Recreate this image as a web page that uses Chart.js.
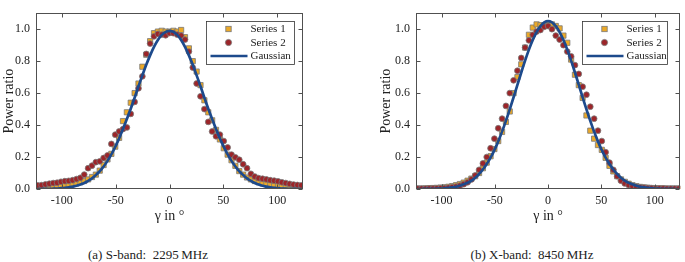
<!DOCTYPE html>
<html>
<head>
<meta charset="utf-8">
<script src="https://cdn.jsdelivr.net/npm/chart.js@4.4.1/dist/chart.umd.min.js"></script>
<style>
  body { margin: 0; background: #fff; width: 685px; height: 262px; position: relative; overflow: hidden; font-family: "Liberation Serif", serif; }
  canvas { position: absolute; top: 0; }
  #chartA { left: 0; }
  #chartB { left: 378px; }
  .cap { position: absolute; top: 247px; font-size: 13px; line-height: 16px; color: #222; white-space: nowrap; transform: translateX(-50%); }
</style>
</head>
<body>
<canvas id="chartA" width="310" height="225"></canvas>
<canvas id="chartB" width="307" height="225"></canvas>
<div class="cap" style="left:148px">(a) S-band:&nbsp; 2295&#8201;MHz</div>
<div class="cap" style="left:532px">(b) X-band:&nbsp; 8450&#8201;MHz</div>
<script>
// angle grid (deg) shared by both measurements
var angles = [-122.4, -118.8, -115.2, -111.6, -108, -104.4, -100.8, -97.2, -93.6, -90, -86.4, -82.8,
  -79.2, -75.6, -72, -68.4, -64.8, -61.2, -57.6, -54, -50.4, -46.8, -43.2, -39.6, -36, -32.4, -28.8,
  -25.2, -21.6, -18, -14.4, -10.8, -7.2, -3.6, 0, 3.6, 7.2, 10.8, 14.4, 18, 21.6, 25.2, 28.8, 32.4,
  36, 39.6, 43.2, 46.8, 50.4, 54, 57.6, 61.2, 64.8, 68.4, 72, 75.6, 79.2, 82.8, 86.4, 90, 93.6, 97.2,
  100.8, 104.4, 108, 111.6, 115.2, 118.8, 122.4];

var xTicks = [-100, -50, 0, 50, 100];
var yTicks = [0, 0.2, 0.4, 0.6, 0.8, 1.0];
var legendLabels = ['Series 1', 'Series 2', 'Gaussian'];

// S-band 2295 MHz
var sBand1 = [0.004, 0.006, 0.008, 0.010, 0.012, 0.015, 0.018, 0.022, 0.026, 0.030, 0.035, 0.042,
  0.050, 0.060, 0.075, 0.090, 0.115, 0.150, 0.185, 0.220, 0.265, 0.320, 0.425, 0.480, 0.540, 0.600,
  0.660, 0.765, 0.840, 0.925, 0.975, 0.985, 0.990, 0.985, 0.985,
  0.990, 0.985, 0.995, 0.950, 0.880, 0.800, 0.735, 0.650, 0.555, 0.480, 0.430, 0.370, 0.310, 0.255,
  0.215, 0.180, 0.145, 0.112, 0.090, 0.072, 0.060, 0.050, 0.042, 0.035, 0.030, 0.026, 0.022, 0.018,
  0.015, 0.012, 0.010, 0.008, 0.006, 0.004];
var sBand2 = [0.023, 0.024, 0.029, 0.033, 0.037, 0.039, 0.045, 0.049, 0.051, 0.055, 0.062, 0.070,
  0.090, 0.130, 0.146, 0.168, 0.173, 0.194, 0.210, 0.282, 0.340, 0.360, 0.375, 0.385, 0.470, 0.545,
  0.630, 0.705, 0.845, 0.910, 0.955, 0.970, 0.966, 0.962, 0.976,
  0.975, 0.966, 0.960, 0.935, 0.860, 0.760, 0.660, 0.580, 0.500, 0.420, 0.360, 0.330, 0.340, 0.300,
  0.260, 0.215, 0.198, 0.183, 0.155, 0.130, 0.095, 0.078, 0.068, 0.064, 0.060, 0.055, 0.052, 0.048,
  0.042, 0.037, 0.032, 0.028, 0.025, 0.023];
var sGauss = [0.000, 0.000, 0.001, 0.001, 0.002, 0.003, 0.005, 0.007, 0.010, 0.015, 0.020, 0.028,
  0.038, 0.051, 0.067, 0.087, 0.111, 0.141, 0.176, 0.217, 0.264, 0.317, 0.375, 0.438, 0.502, 0.571,
  0.643, 0.711, 0.777, 0.836, 0.889, 0.932, 0.964, 0.983, 0.990,
  0.983, 0.964, 0.932, 0.889, 0.836, 0.777, 0.711, 0.643, 0.571, 0.502, 0.438, 0.375, 0.317, 0.264,
  0.217, 0.176, 0.141, 0.111, 0.087, 0.067, 0.051, 0.038, 0.028, 0.020, 0.015, 0.010, 0.007, 0.005,
  0.003, 0.002, 0.001, 0.001, 0.000, 0.000];

// X-band 8450 MHz
var xBand1 = [0.003, 0.003, 0.004, 0.005, 0.006, 0.007, 0.009, 0.011, 0.014, 0.018, 0.024, 0.031,
  0.040, 0.052, 0.065, 0.080, 0.100, 0.130, 0.165, 0.205, 0.250, 0.300, 0.357, 0.420, 0.485, 0.600,
  0.700, 0.780, 0.885, 0.965, 1.010, 1.030, 1.025, 1.020, 1.030,
  1.030, 1.020, 1.005, 0.960, 0.915, 0.810, 0.715, 0.650, 0.570, 0.460, 0.365, 0.315, 0.275, 0.245,
  0.195, 0.145, 0.110, 0.080, 0.060, 0.045, 0.033, 0.024, 0.018, 0.013, 0.010, 0.008, 0.006, 0.005,
  0.004, 0.004, 0.003, 0.003, 0.003, 0.003];
var xBand2 = [0.002, 0.002, 0.002, 0.003, 0.003, 0.004, 0.005, 0.006, 0.008, 0.011, 0.015, 0.021,
  0.030, 0.042, 0.060, 0.085, 0.120, 0.160, 0.200, 0.255, 0.315, 0.380, 0.440, 0.520, 0.600, 0.680,
  0.740, 0.820, 0.885, 0.930, 0.965, 0.985, 0.995, 1.015, 1.020,
  1.000, 0.960, 0.935, 0.900, 0.860, 0.830, 0.775, 0.720, 0.640, 0.590, 0.515, 0.440, 0.365, 0.300,
  0.230, 0.165, 0.120, 0.080, 0.052, 0.035, 0.025, 0.018, 0.013, 0.010, 0.008, 0.006, 0.005, 0.004,
  0.003, 0.003, 0.002, 0.002, 0.002, 0.002];
var xGauss = [0.000, 0.000, 0.001, 0.001, 0.001, 0.002, 0.003, 0.005, 0.007, 0.010, 0.014, 0.020,
  0.029, 0.039, 0.053, 0.071, 0.094, 0.122, 0.156, 0.196, 0.243, 0.298, 0.359, 0.426, 0.498, 0.574,
  0.652, 0.729, 0.803, 0.872, 0.932, 0.982, 1.019, 1.042, 1.050,
  1.042, 1.019, 0.982, 0.932, 0.872, 0.803, 0.729, 0.652, 0.574, 0.498, 0.426, 0.359, 0.298, 0.243,
  0.196, 0.156, 0.122, 0.094, 0.071, 0.053, 0.039, 0.029, 0.020, 0.014, 0.010, 0.007, 0.005, 0.003,
  0.002, 0.001, 0.001, 0.001, 0.000, 0.000];

var orange = '#EBA928', red = '#9C2529', blue = '#1D4A8C', edge = '#7a7a7a', ink = '#222';
var serif = '"Liberation Serif", "DejaVu Serif", serif';

function pts(ys) {
  return angles.map(function (a, i) { return { x: a, y: ys[i] }; });
}

// matlab-ish box with inward ticks on all four sides
var boxTicks = {
  id: 'boxTicks',
  afterDraw: function (chart) {
    var ctx = chart.ctx, a = chart.chartArea, sx = chart.scales.x, sy = chart.scales.y;
    var l = Math.round(a.left) + 0.5, r = Math.round(a.right) - 0.5;
    var t = Math.round(a.top) + 0.5, b = Math.round(a.bottom) - 0.5;
    ctx.save();
    ctx.strokeStyle = '#505050';
    ctx.lineWidth = 1;
    ctx.beginPath();
    xTicks.forEach(function (v) {
      var px = Math.round(sx.getPixelForValue(v)) + 0.5;
      ctx.moveTo(px, b); ctx.lineTo(px, b - 4);
      ctx.moveTo(px, t); ctx.lineTo(px, t + 4);
    });
    yTicks.forEach(function (v) {
      var py = Math.round(sy.getPixelForValue(v)) + 0.5;
      ctx.moveTo(l, py); ctx.lineTo(l + 4, py);
      ctx.moveTo(r, py); ctx.lineTo(r - 4, py);
    });
    ctx.stroke();
    ctx.strokeRect(l, t, r - l, b - t);
    ctx.restore();
  }
};

// legend box sitting inside the axes, top right
var innerLegend = {
  id: 'innerLegend',
  afterDraw: function (chart, args, opts) {
    var ctx = chart.ctx, a = chart.chartArea;
    var w = opts.width, h = 43;
    var x0 = Math.round(a.right - opts.right - w) + 0.5, y0 = Math.round(a.top + 8) + 0.5;
    ctx.save();
    ctx.fillStyle = '#fff';
    ctx.fillRect(x0, y0, w, h);
    ctx.strokeStyle = '#333';
    ctx.lineWidth = 0.8;
    ctx.strokeRect(x0, y0, w, h);
    var rows = [y0 + 7.5, y0 + 21, y0 + 34.5];
    var mx = x0 + 22;
    ctx.strokeStyle = edge;
    ctx.fillStyle = orange;
    ctx.fillRect(mx - 2.7, rows[0] - 2.7, 5.4, 5.4);
    ctx.strokeRect(mx - 2.7, rows[0] - 2.7, 5.4, 5.4);
    ctx.beginPath();
    ctx.arc(mx, rows[1], 3.1, 0, Math.PI * 2);
    ctx.fillStyle = red;
    ctx.fill();
    ctx.stroke();
    ctx.beginPath();
    ctx.moveTo(x0 + 4, rows[2]);
    ctx.lineTo(x0 + 41, rows[2]);
    ctx.strokeStyle = blue;
    ctx.lineWidth = 2.5;
    ctx.stroke();
    ctx.fillStyle = ink;
    ctx.font = '11px ' + serif;
    ctx.textBaseline = 'middle';
    legendLabels.forEach(function (txt, i) {
      ctx.fillText(txt, x0 + 44, rows[i] + 0.5);
    });
    ctx.restore();
  }
};

function makeChart(id, s1, s2, g, axisW, titlePad, rightPad, legW, legRight) {
  return new Chart(document.getElementById(id), {
    type: 'scatter',
    data: {
      datasets: [
        {
          label: legendLabels[0], data: pts(s1), order: 2,
          pointStyle: 'rect', pointRadius: 3.7, pointBackgroundColor: orange,
          pointBorderColor: edge, pointBorderWidth: 0.8
        },
        {
          label: legendLabels[1], data: pts(s2), order: 1,
          pointStyle: 'circle', pointRadius: 2.9, pointBackgroundColor: red,
          pointBorderColor: edge, pointBorderWidth: 0.8
        },
        {
          label: legendLabels[2], data: pts(g), order: 0, showLine: true,
          pointRadius: 0, borderColor: blue, borderWidth: 2.7,
          cubicInterpolationMode: 'monotone'
        }
      ]
    },
    options: {
      responsive: false,
      animation: false,
      devicePixelRatio: 1,
      layout: { padding: { top: 1, right: rightPad, left: 0, bottom: 0 } },
      plugins: {
        legend: { display: false },
        tooltip: { enabled: false },
        innerLegend: { width: legW, right: legRight }
      },
      scales: {
        x: {
          type: 'linear', min: -124, max: 124,
          afterBuildTicks: function (s) { s.ticks = xTicks.map(function (v) { return { value: v }; }); },
          afterFit: function (s) { s.height = 36; },
          grid: { display: false, drawTicks: false },
          border: { display: false },
          ticks: { padding: 5, color: ink, font: { family: serif, size: 12 }, callback: function (v) { return String(v); } },
          title: { display: true, text: 'γ in °', color: ink, font: { family: serif, size: 14 }, padding: { top: 0, bottom: 0 } }
        },
        y: {
          min: 0, max: 1.1,
          afterBuildTicks: function (s) { s.ticks = yTicks.map(function (v) { return { value: v }; }); },
          afterFit: function (s) { s.width = axisW; },
          grid: { display: false, drawTicks: false },
          border: { display: false },
          ticks: { padding: 6, color: ink, font: { family: serif, size: 12 }, callback: function (v) { return v.toFixed(1); } },
          title: { display: true, text: 'Power ratio', color: ink, font: { family: serif, size: 14 }, padding: { top: titlePad, bottom: 0 } }
        }
      }
    },
    plugins: [boxTicks, innerLegend]
  });
}

makeChart('chartA', sBand1, sBand2, sGauss, 36, 1, 7, 88, 9);
makeChart('chartB', xBand1, xBand2, xGauss, 38, 0, 1, 85, 13);
</script>
</body>
</html>
